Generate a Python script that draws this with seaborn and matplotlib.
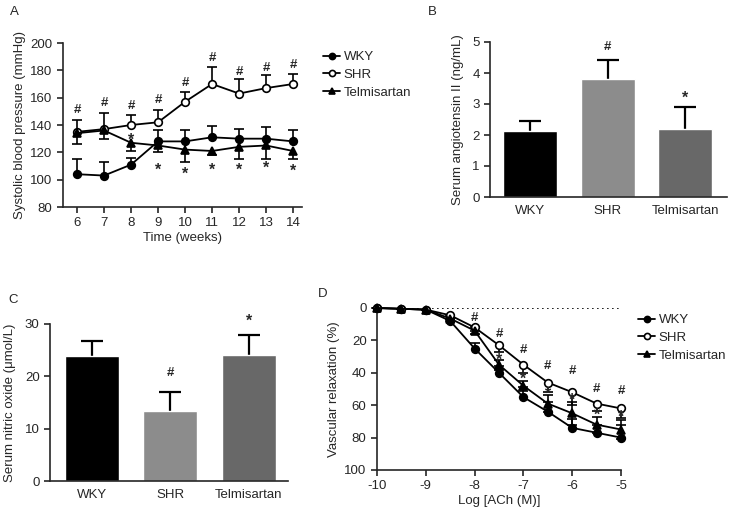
import numpy as np
import pandas as pd
import matplotlib
matplotlib.use("Agg")
import matplotlib.pyplot as plt
import seaborn as sns

# Panel A: systolic blood pressure over time
weeks = [6, 7, 8, 9, 10, 11, 12, 13, 14]
sbp_wky = [104, 103, 111, 128, 128, 131, 130, 130, 128]
sbp_wky_err = [11, 10, 5, 8, 8, 8.5, 7, 8.5, 8]
sbp_shr = [135, 137, 140, 142, 157, 170, 163, 167, 170]
sbp_shr_err = [9, 12, 7, 9, 7, 12.5, 11, 9.5, 7]
sbp_tel = [134, 136, 127, 125, 122, 121, 124, 125, 121]
sbp_tel_err = [8, 6, 6, 5, 9, 3, 9, 10, 6]
sbp_hash_y = [151, 156, 154, 158, 171, 189, 179, 182, 184]
sbp_star_weeks = [8, 9, 10, 11, 12, 13, 14]
sbp_star_y = [129, 107, 104, 107, 107, 108, 106]

# Panels B and C: bar charts
groups = ["WKY", "SHR", "Telmisartan"]
ang2 = [2.12, 3.8, 2.2]
ang2_err = [0.33, 0.62, 0.7]
no_vals = [23.8, 13.4, 24.1]
no_err = [3.0, 3.6, 3.8]
bar_colors = ["#000000", "#8c8c8c", "#686868"]

# Panel D: vascular relaxation
log_ach = [-10, -9.5, -9, -8.5, -8, -7.5, -7, -6.5, -6, -5.5, -5]
rel_wky = [0, 0.5, 1, 8, 25, 40, 55, 64, 74, 77, 80]
rel_wky_err = [0, 0, 0, 0, 3.5, 4, 6, 6, 5.5, 5, 8]
rel_shr = [0, 0.5, 1, 4.5, 12, 23, 35, 46, 52, 59, 62]
rel_shr_err = [0, 0, 0, 0, 2, 4, 5, 6, 8, 4.5, 6]
rel_tel = [0, 0.5, 1, 6.5, 14, 35, 48, 59, 65, 72, 75]
rel_tel_err = [0, 0, 0, 0, 2, 3, 3, 5, 7, 5, 6]
rel_hash_x = [-8, -7.5, -7, -6.5, -6, -5.5, -5]
rel_hash_y = [6, 16, 26, 35.5, 39, 50, 51.5]
rel_star_x = [-7.5, -7, -6.5, -6, -5.5, -5]
rel_star_y = [32, 44, 53, 57, 66, 67.5]

FS = 9.5

sns.set_theme(style="ticks")
plt.rcParams["font.family"] = ["Liberation Sans", "DejaVu Sans"]
plt.rcParams["axes.unicode_minus"] = False
plt.rcParams["axes.linewidth"] = 1.2
plt.rcParams["xtick.major.width"] = 1.2
plt.rcParams["ytick.major.width"] = 1.2
plt.rcParams["xtick.major.size"] = 4
plt.rcParams["ytick.major.size"] = 4
plt.rcParams["font.size"] = FS
plt.rcParams["xtick.labelsize"] = FS
plt.rcParams["ytick.labelsize"] = FS

W, H = 731, 522
fig = plt.figure(figsize=(W / 100, H / 100), dpi=100)


def px_axes(left, top, right, bottom):
    return fig.add_axes([left / W, (H - bottom) / H, (right - left) / W, (bottom - top) / H])


def one_sided_err(ax, x, y, err, side, capsize, lw, zorder):
    lower = [e if side in ("down", "both") else 0 for e in err]
    upper = [e if side in ("up", "both") else 0 for e in err]
    _, caps, _ = ax.errorbar(x, y, yerr=[lower, upper], fmt="none", ecolor="black",
                             elinewidth=lw, capsize=capsize, capthick=lw,
                             zorder=zorder, clip_on=False)
    # hide the cap sitting on the mean for one-sided bars
    if side == "up":
        caps[0].set_visible(False)
    elif side == "down":
        caps[1].set_visible(False)


def draw_series(ax, x, y, err, side, marker, label, filled=True, ms=5.5):
    one_sided_err(ax, x, y, err, side, 3.5, 1.2, 2)
    df = pd.DataFrame({"x": x, "y": y})
    sns.lineplot(data=df, x="x", y="y", ax=ax, color="black", lw=1.3, marker=marker,
                 markersize=ms, markeredgecolor="black", markeredgewidth=1.2,
                 markerfacecolor="black" if filled else "white", label=label,
                 zorder=3, clip_on=False)


def place_legend(ax, x_px, y_px):
    handles, labels = ax.get_legend_handles_labels()
    ax.get_legend().remove()
    fig.legend(handles, labels, loc="upper left",
               bbox_to_anchor=(x_px / W, 1 - y_px / H), frameon=False,
               fontsize=FS, handlelength=1.3, handletextpad=0.25,
               labelspacing=0.42, borderpad=0, borderaxespad=0, markerscale=0.8)


# ---- Panel A ----
axA = px_axes(63, 43, 302, 207)
draw_series(axA, weeks, sbp_wky, sbp_wky_err, "up", "o", "WKY")
draw_series(axA, weeks, sbp_shr, sbp_shr_err, "up", "o", "SHR", filled=False)
draw_series(axA, weeks, sbp_tel, sbp_tel_err, "down", "^", "Telmisartan")
for x, y in zip(weeks, sbp_hash_y):
    axA.text(x, y, "#", ha="center", va="center", fontsize=FS, fontweight="bold")
for x, y in zip(sbp_star_weeks, sbp_star_y):
    axA.text(x, y, "*", ha="center", va="center", fontsize=11.5, fontweight="bold")
axA.set_xlim(5.48, 14.33)
axA.set_ylim(80, 200)
axA.set_xticks(weeks)
axA.set_yticks([80, 100, 120, 140, 160, 180, 200])
axA.set_xlabel("Time (weeks)", fontsize=FS, labelpad=2)
axA.set_ylabel("Systolic blood pressure (mmHg)", fontsize=FS, labelpad=3)
place_legend(axA, 323, 51)
sns.despine(ax=axA)

# ---- Panel B ----
axB = px_axes(490, 42, 727, 197)
dfB = pd.DataFrame({"group": groups, "val": ang2})
sns.barplot(data=dfB, x="group", y="val", hue="group", palette=bar_colors, ax=axB,
            width=0.7, legend=False, saturation=1, errorbar=None)
one_sided_err(axB, range(3), ang2, ang2_err, "up", 8, 1.6, 0)
axB.text(1, 4.83, "#", ha="center", va="center", fontsize=FS, fontweight="bold")
axB.text(2, 3.2, "*", ha="center", va="center", fontsize=11.5, fontweight="bold")
axB.set_xlim(-0.52, 2.54)
axB.set_ylim(0, 5)
axB.set_yticks([0, 1, 2, 3, 4, 5])
axB.tick_params(axis="x", length=0, pad=6)
axB.set_xlabel("")
axB.set_ylabel("Serum angiotensin II (ng/mL)", fontsize=FS, labelpad=6)
sns.despine(ax=axB)

# ---- Panel C ----
axC = px_axes(50, 324, 288, 481)
dfC = pd.DataFrame({"group": groups, "val": no_vals})
sns.barplot(data=dfC, x="group", y="val", hue="group", palette=bar_colors, ax=axC,
            width=0.69, legend=False, saturation=1, errorbar=None)
one_sided_err(axC, range(3), no_vals, no_err, "up", 8, 1.6, 0)
axC.text(1, 20.6, "#", ha="center", va="center", fontsize=FS, fontweight="bold")
axC.text(2, 30.5, "*", ha="center", va="center", fontsize=11.5, fontweight="bold")
axC.set_xlim(-0.535, 2.5)
axC.set_ylim(0, 30)
axC.set_yticks([0, 10, 20, 30])
axC.tick_params(axis="x", length=0, pad=6)
axC.set_xlabel("")
axC.set_ylabel("Serum nitric oxide (\u03bcmol/L)", fontsize=FS, labelpad=6)
sns.despine(ax=axC)

# ---- Panel D ----
axD = px_axes(377, 308, 621, 470)
axD.plot([-10, -5], [0, 0], ls=(0, (1, 2)), color="black", lw=1.2, zorder=1)
draw_series(axD, log_ach, rel_wky, rel_wky_err, "down", "o", "WKY")
draw_series(axD, log_ach, rel_shr, rel_shr_err, "up", "o", "SHR", filled=False)
draw_series(axD, log_ach, rel_tel, rel_tel_err, "both", "^", "Telmisartan")
for x, y in zip(rel_hash_x, rel_hash_y):
    axD.text(x, y, "#", ha="center", va="center", fontsize=FS, fontweight="bold")
for x, y in zip(rel_star_x, rel_star_y):
    axD.text(x, y, "*", ha="center", va="center", fontsize=11.5, fontweight="bold")
axD.set_xlim(-10, -5)
axD.set_ylim(100, 0)
axD.set_xticks([-10, -9, -8, -7, -6, -5])
axD.set_yticks([0, 20, 40, 60, 80, 100])
axD.set_xlabel("Log [ACh (M)]", fontsize=FS, labelpad=2)
axD.set_ylabel("Vascular relaxation (%)", fontsize=FS, labelpad=3)
place_legend(axD, 638, 314)
sns.despine(ax=axD)

# panel letters
for letter, x, y in [("A", 10, 12), ("B", 428, 12), ("C", 8, 300), ("D", 318, 294)]:
    fig.text(x / W, 1 - y / H, letter, fontsize=FS, ha="left", va="center")

fig.savefig("out.png", dpi=100)
